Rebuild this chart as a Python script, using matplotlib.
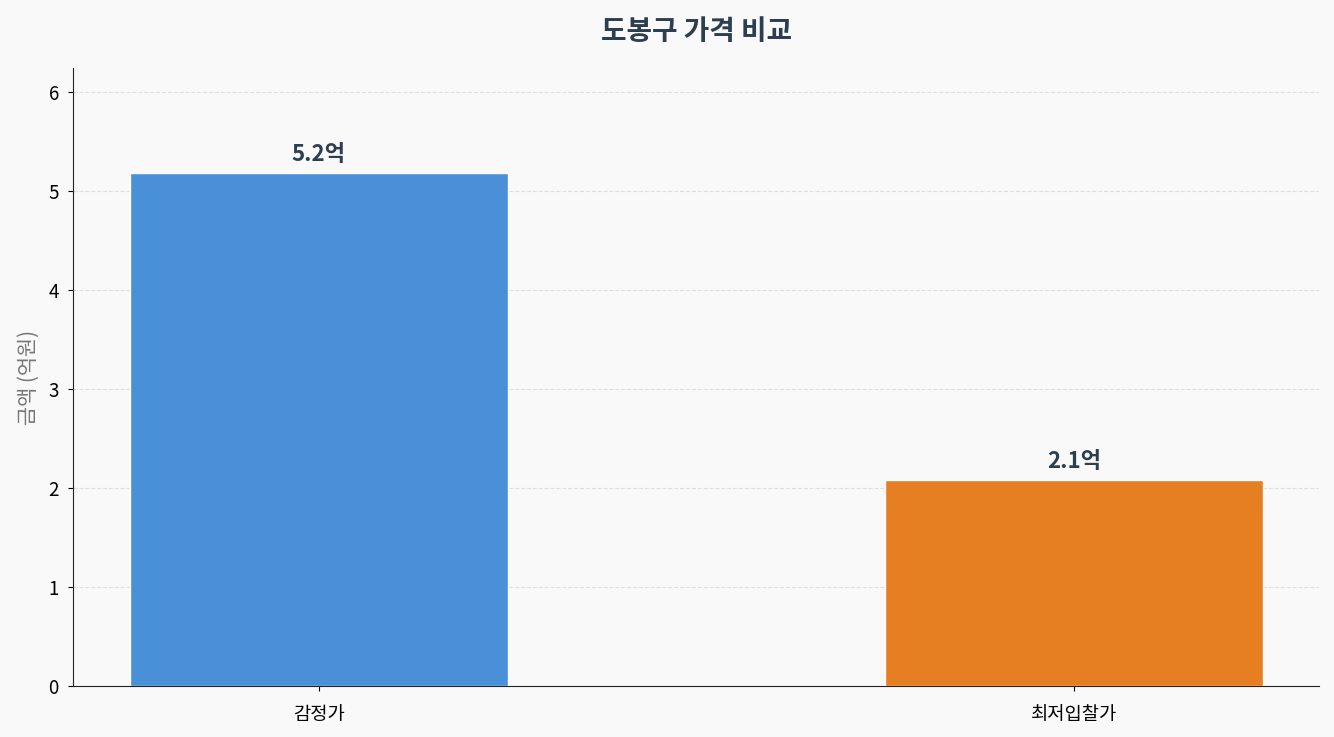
import matplotlib
matplotlib.use('Agg')
import matplotlib.pyplot as plt

plt.rcParams['font.family'] = ['Noto Sans CJK KR', 'DejaVu Sans']

# 가격 데이터 (억원)
categories = ['감정가', '최저입찰가']
values = [5.18, 2.08]
value_labels = ['5.2억', '2.1억']
colors = ['#4a90d9', '#e67e22']

fig, ax = plt.subplots(figsize=(13.34, 7.37), dpi=100)
fig.patch.set_facecolor('#f9f9f9')
ax.set_facecolor('#f9f9f9')

bars = ax.bar(categories, values, width=0.5, color=colors, edgecolor='white', linewidth=1)

# 막대 위 값 표시
for bar, label in zip(bars, value_labels):
    ax.text(bar.get_x() + bar.get_width() / 2, bar.get_height() + 0.07, label,
            ha='center', va='bottom', fontsize=16, fontweight='bold', color='#2c3e50')

ax.set_title('도봉구 가격 비교', fontsize=20, fontweight='bold', color='#2c3e50', pad=20)
ax.set_ylabel('금액 (억원)', fontsize=15, color='#777777', labelpad=6)
ax.set_ylim(0, max(values) * 1.205)
ax.tick_params(axis='both', labelsize=13.5)
ax.tick_params(axis='x', pad=9)
ax.tick_params(axis='y', pad=7)
ax.grid(axis='y', linestyle='--', alpha=0.6, color='#d0d0d0')
ax.set_axisbelow(True)
ax.spines['top'].set_visible(False)
ax.spines['right'].set_visible(False)
for side in ['left', 'bottom']:
    ax.spines[side].set_color('#222222')

fig.subplots_adjust(left=0.055, right=0.989, bottom=0.069, top=0.908)
plt.savefig('out.png', dpi=100, facecolor=fig.get_facecolor())
